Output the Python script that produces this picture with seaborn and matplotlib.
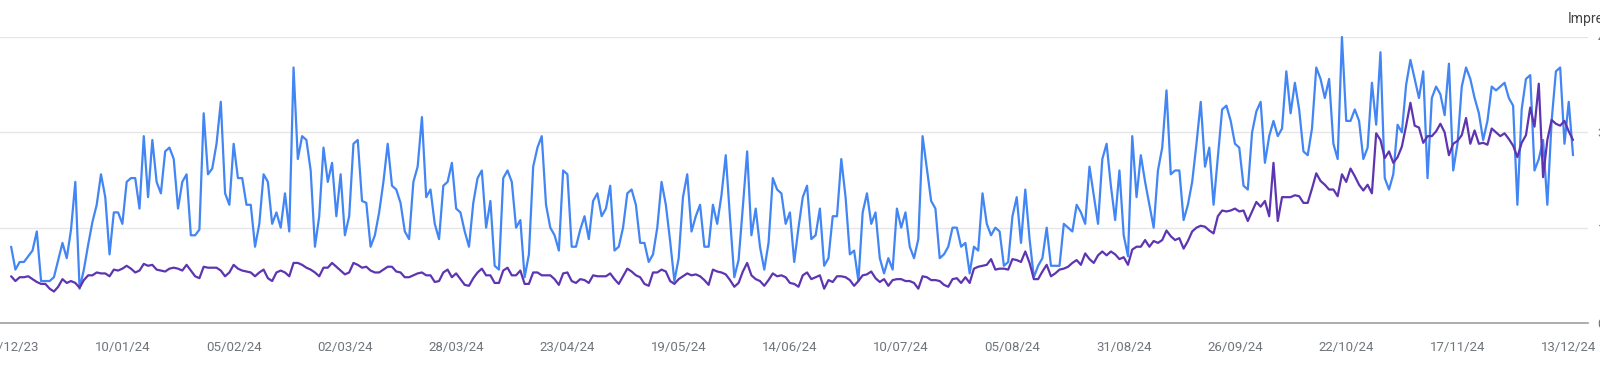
import matplotlib
matplotlib.use("Agg")
import matplotlib.pyplot as plt
import matplotlib.dates as mdates
import numpy as np
import pandas as pd
import seaborn as sns

# daily values, 15/12/23 .. 14/12/24
start_date = "2023-12-15"

clicks = [
    40, 28, 32, 32, 35, 38, 48, 22, 22, 22, 24, 33, 42, 34, 49, 74, 18, 28, 41, 53,
    62, 78, 66, 36, 58, 58, 52, 74, 76, 76, 60, 98, 66, 96, 74, 68, 90, 92, 86, 60,
    74, 78, 46, 46, 49,
    110, 78, 81, 94, 116, 68, 62, 94, 76, 76, 62, 62, 40, 52, 78, 74, 52, 58, 50, 68,
    48, 134, 86, 98, 96, 80, 40, 56, 92, 74, 84, 56, 78, 46, 56, 94, 96, 64, 63, 40,
    46, 58, 74, 94, 72, 70,
    63, 48, 44, 74, 82, 108, 66, 70, 52, 44, 72, 74, 84, 60, 58, 48, 40, 63, 76, 80,
    50, 64, 30, 28, 76, 80, 74, 50, 54, 24, 36, 82, 92, 98, 62, 50, 46, 38, 80, 78,
    40, 40, 49, 56, 44, 64, 68,
    56, 60, 72, 38, 40, 50, 68, 70, 62, 42, 42, 32, 36, 50, 74, 62, 43, 22, 34, 66,
    78, 48, 56, 62, 40, 40, 62, 52, 67, 88, 55, 24, 33, 61, 90, 46, 60, 40, 28, 42,
    76, 70, 68, 52, 58, 32, 50, 66,
    72, 44, 46, 60, 30, 34, 56, 56, 86, 66, 36, 38, 22, 58, 68, 52, 58, 34, 26, 34,
    28, 60, 50, 58, 40, 34, 44, 98, 81, 64, 60, 34, 36, 40, 50, 50, 40, 42, 26, 40,
    38, 68, 52, 46, 50, 48, 30, 32,
    56, 66, 42, 70, 44, 24, 30, 34, 50, 30, 30, 30, 52, 50, 48, 62, 58, 52, 82, 67,
    52, 86, 94, 72, 54, 80, 46, 35, 98, 66, 88, 74, 62, 50, 80, 92, 122, 78, 80, 80,
    54, 62, 74, 94, 116, 82, 92, 62,
    87, 112, 114, 106, 94, 92, 72, 70, 100, 111, 116, 84, 98, 106, 98, 102, 132, 110, 126, 112,
    90, 88, 102, 134, 128, 118, 128, 94, 86, 150, 106, 106, 112, 106, 86, 92, 126, 104, 142, 76,
    70, 78, 104, 100, 125, 138, 128, 118, 132, 76, 118, 124, 120, 109, 136, 80, 94, 124, 134, 128,
    118, 110, 96, 106, 124, 122, 124, 126, 118, 114, 62, 112, 128, 130, 80, 86, 96, 62, 106, 132,
    134, 94, 116, 88,
]

impressions = [
    735, 660, 720, 720, 735, 690, 645, 615, 615, 540, 495, 570, 690, 630, 660, 630, 555, 675, 750, 750,
    795, 780, 780, 735, 840, 825, 855, 900, 855, 795, 825, 930, 900, 915, 840, 825, 810, 855, 870, 855,
    825, 915, 825, 735, 705,
    885, 870, 870, 870, 825, 735, 795, 915, 855, 825, 810, 795, 735, 795, 840, 705, 660, 795, 825, 795,
    735, 945, 945, 915, 870, 840, 795, 735, 870, 870, 945, 885, 825, 765, 795, 945, 915, 870, 885, 825,
    795, 795, 840, 885, 885, 810,
    795, 720, 720, 750, 780, 795, 750, 750, 645, 660, 795, 840, 720, 780, 690, 600, 585, 705, 795, 855,
    750, 750, 630, 630, 825, 870, 750, 750, 825, 615, 615, 795, 795, 750, 750, 750, 690, 600, 780, 795,
    660, 630, 690, 675, 630, 750, 735,
    735, 735, 780, 690, 615, 735, 855, 810, 750, 720, 615, 585, 795, 795, 840, 810, 660, 615, 690, 735,
    780, 750, 765, 735, 675, 600, 840, 810, 795, 765, 675, 570, 630, 810, 945, 750, 690, 660, 585, 675,
    780, 735, 750, 720, 630, 615, 570, 750,
    795, 690, 720, 750, 540, 675, 645, 735, 735, 720, 675, 585, 660, 750, 765, 810, 705, 645, 690, 585,
    675, 690, 690, 660, 660, 630, 540, 735, 720, 675, 675, 660, 600, 570, 690, 705, 630, 720, 630, 855,
    885, 900, 915, 1005, 840, 855, 855, 840,
    1005, 990, 960, 1125, 945, 690, 690, 810, 915, 735, 780, 840, 855, 885, 945, 990, 915, 1095, 1005, 945,
    1065, 1125, 1065, 1125, 1080, 1005, 1035, 915, 1155, 1200, 1200, 1305, 1200, 1290, 1260, 1305, 1455, 1365, 1305, 1335,
    1170, 1290, 1440, 1500, 1530, 1515, 1455, 1410,
    1680, 1770, 1755, 1770, 1800, 1755, 1770, 1605, 1755, 1905, 1830, 1920, 1680, 2520, 1605, 1980, 1980, 1980, 2010, 1995,
    1890, 1890, 2115, 2355, 2235, 2175, 2100, 2100, 1995, 2340, 2220, 2430, 2310, 2175, 2085, 2175, 2040, 2985, 2880, 2595,
    2700, 2520, 2610, 2775, 3105, 3465, 3105, 3075, 2835, 2940, 2940, 3015, 3135, 3000, 2640, 2820, 2865, 2955, 3225, 2820,
    3030, 2820, 2835, 2805, 3060, 3000, 2940, 2985, 2895, 2790, 2610, 2835, 2955, 3390, 3090, 3765, 2295, 2880, 3195, 3135,
    3105, 3180, 3015, 2880,
]

impression_ticks = [0, 1500, 3000, 4500]
impression_labels = ["0", "1.5K", "3K", "4.5K"]
click_ticks = [0, 50, 100, 150]

dates = pd.date_range(start_date, periods=len(clicks), freq="D")
df = pd.DataFrame({"date": dates, "clicks": clicks, "impressions": impressions})

sns.set_theme(style="white")
plt.rcParams["font.family"] = ["Roboto", "DejaVu Sans"]

blue = "#4285f4"
purple = "#5e35b1"
grey_text = "#70757a"

fig = plt.figure(figsize=(16, 3.69), dpi=100)
ax = fig.add_axes([0.0, 0.1247, 0.9925, 0.7750])
ax2 = ax.twinx()

sns.lineplot(data=df, x="date", y="clicks", ax=ax, color=blue, linewidth=1.6,
             legend=False, clip_on=False)
sns.lineplot(data=df, x="date", y="impressions", ax=ax2, color=purple, linewidth=1.6,
             legend=False, clip_on=False)

# x range: a little padding either side of the data
x0 = dates[0] - pd.Timedelta(days=2.6)
x1 = dates[0] + pd.Timedelta(days=368.5)
ax.set_xlim(x0, x1)

ax.set_ylim(0, 150)
ax2.set_ylim(0, 4500)
ax.set_yticks(click_ticks)
ax.set_yticklabels([])
ax.yaxis.grid(True, color="#e6e6e6", linewidth=1)
ax.tick_params(axis="y", length=0, left=False)

ax2.set_yticks(impression_ticks)
ax2.set_yticklabels(impression_labels)
ax2.tick_params(axis="y", length=0, pad=7, labelsize=9.5, labelcolor=grey_text)

tick_dates = [dates[0] + pd.Timedelta(days=26 * k) for k in range(15)]
ax.set_xticks(tick_dates)
ax.xaxis.set_major_formatter(mdates.DateFormatter("%d/%m/%y"))
ax.tick_params(axis="x", length=0, pad=13, labelsize=9.5, labelcolor=grey_text)

for a in (ax, ax2):
    a.set_xlabel("")
    a.set_ylabel("")
    for side in ("top", "left", "right"):
        a.spines[side].set_visible(False)
    a.spines["bottom"].set_visible(False)
ax.spines["bottom"].set_visible(True)
ax.spines["bottom"].set_color("#a0a0a0")
ax.spines["bottom"].set_linewidth(1.2)

fig.text(1568 / 1600, 1 - 19 / 369, "Impressions", ha="left", va="center",
         fontsize=10, color="#444444")

fig.savefig("out.png", dpi=100)
